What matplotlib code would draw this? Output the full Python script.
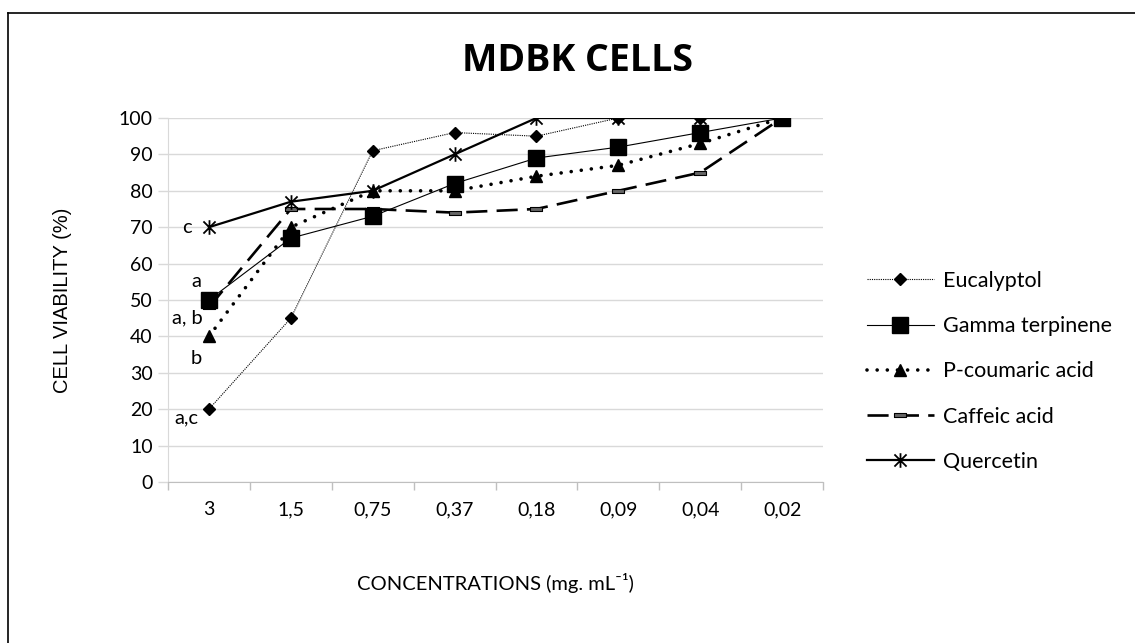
import matplotlib
matplotlib.use('Agg')
import matplotlib.pyplot as plt
import numpy as np
from matplotlib.path import Path
from matplotlib.lines import Line2D

# data
concentrations = ['3', '1,5', '0,75', '0,37', '0,18', '0,09', '0,04', '0,02']
eucalyptol = [20, 45, 91, 96, 95, 100, 100, 100]
gamma_terpinene = [50, 67, 73, 82, 89, 92, 96, 100]
p_coumaric = [40, 70, 80, 80, 84, 87, 93, 100]
caffeic = [48, 75, 75, 74, 75, 80, 85, 100]
quercetin = [70, 77, 80, 90, 100, 100, 100, 100]

# significance letters at the highest concentration
letters = ['c', 'a', 'a, b', 'b', 'a,c']
letter_y = [70, 55, 45, 34, 17.5]
letter_x = [-0.27, -0.15, -0.26, -0.16, -0.27]

plt.rcParams['font.family'] = ['Lato', 'DejaVu Sans']

fig = plt.figure(figsize=(11.35, 6.43), dpi=100)
ax = fig.add_axes([168 / 1135, 1 - 482 / 643, 655 / 1135, 364 / 643])

x = np.arange(len(concentrations))

star = Path([(-1, -1), (1, 1), (-1, 1), (1, -1), (0, -1.2), (0, 1.2)],
            [Path.MOVETO, Path.LINETO, Path.MOVETO, Path.LINETO, Path.MOVETO, Path.LINETO])
bar_mark = [(-1, -0.35), (1, -0.35), (1, 0.35), (-1, 0.35), (-1, -0.35)]

ax.plot(x, eucalyptol, color='black', lw=0.8, ls=(0, (1, 1)),
        marker='D', markersize=6.5, label='Eucalyptol', zorder=3)
ax.plot(x, gamma_terpinene, color='black', lw=0.8, ls='-',
        marker='s', markersize=11.5, label='Gamma terpinene', zorder=4)
ax.plot(x, p_coumaric, color='black', lw=2.6, ls=(0, (0.01, 2.8)),
        dash_capstyle='round', marker='^', markersize=8.5,
        label='P-coumaric acid', zorder=3)
ax.plot(x, caffeic, color='black', lw=1.9, ls=(0, (8, 3.5)),
        marker=bar_mark, markersize=8, markerfacecolor='#666666',
        markeredgecolor='black', markeredgewidth=0.8, label='Caffeic acid', zorder=3)
ax.plot(x, quercetin, color='black', lw=1.6, ls='-',
        marker=star, markersize=10.5, markeredgewidth=1.3, fillstyle='none',
        label='Quercetin', zorder=5)

for t, tx, ty in zip(letters, letter_x, letter_y):
    ax.text(tx, ty, t, ha='center', va='center', fontsize=14.5, color='black', zorder=6)

ax.set_xlim(-0.5, len(concentrations) - 0.5)
ax.set_ylim(0, 100)
ax.set_yticks(np.arange(0, 101, 10))
ax.set_xticks(x)
ax.set_xticklabels(concentrations)
ax.set_xticks(np.arange(-0.5, len(concentrations), 1), minor=True)
ax.tick_params(axis='x', which='major', length=0, pad=14, labelsize=14)
ax.tick_params(axis='x', which='minor', length=6, color='#bfbfbf', width=1)
ax.tick_params(axis='y', length=7, color='#d9d9d9', width=1, pad=4, labelsize=14)
ax.grid(axis='y', color='#d9d9d9', lw=1, zorder=0)
ax.set_axisbelow(True)
for s in ['top', 'right']:
    ax.spines[s].set_visible(False)
ax.spines['left'].set_color('#d9d9d9')
ax.spines['bottom'].set_color('#bfbfbf')

fig.text(577 / 1135, 1 - 61 / 643, 'MDBK CELLS', ha='center', va='center',
         fontsize=27, fontweight='bold', family=['Open Sans', 'DejaVu Sans'])
fig.text(62 / 1135, 1 - 300 / 643, 'CELL VIABILITY (%)', rotation=90,
         ha='center', va='center', fontsize=14.5, family=['Liberation Sans', 'DejaVu Sans'])
fig.text(495 / 1135, 1 - 583 / 643, 'CONCENTRATIONS (mg. mL⁻¹)',
         ha='center', va='center', fontsize=14.5)

fig.legend(loc='upper left', bbox_to_anchor=(867 / 1135, 1 - 271 / 643),
           frameon=False, fontsize=15.5, handlelength=3.1, handletextpad=0.45,
           labelspacing=1.17, borderpad=0, borderaxespad=0)

# outer frame
fig.add_artist(Line2D([8 / 1135, 8 / 1135], [0, 1 - 13 / 643], color='black', lw=1.2,
                      transform=fig.transFigure))
fig.add_artist(Line2D([8 / 1135, 1], [1 - 13 / 643, 1 - 13 / 643], color='black', lw=1.2,
                      transform=fig.transFigure))

fig.savefig('out.png', dpi=100)
